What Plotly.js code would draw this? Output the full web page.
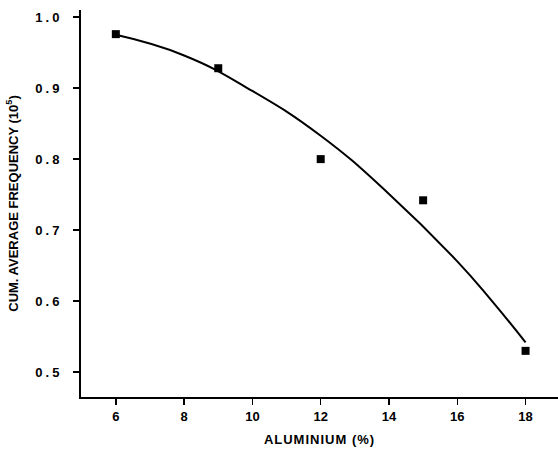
<!DOCTYPE html>
<html>
<head>
<meta charset="utf-8">
<script src="https://cdn.plot.ly/plotly-3.0.1.min.js"></script>
<style>html,body{margin:0;padding:0;background:#fff;}#chart{width:558px;height:452px;}</style>
</head>
<body>
<div id="chart"></div>
<script>
// Measured data points
const aluminium = [6, 9, 12, 15, 18];
const frequency = [0.976, 0.928, 0.800, 0.742, 0.530];
// Fitted curve
const curveX = [6, 8, 10, 12, 14, 16, 17, 18];
const curveY = [0.975, 0.946, 0.896, 0.833, 0.751, 0.656, 0.601, 0.542];
const xTicks = [6, 8, 10, 12, 14, 16, 18];
const yTicks = [0.5, 0.6, 0.7, 0.8, 0.9, 1.0];
const yTickText = ['0.5', '0.6', '0.7', '0.8', '0.9', '1.0'];

const fam = 'Liberation Sans, Arial, sans-serif';
const spaced = (s, px) => '<span style="letter-spacing:' + px + 'px">' + s + '</span>';

const traces = [
  {x: curveX, y: curveY, mode: 'lines', line: {color: '#000', width: 2, shape: 'spline', smoothing: 1.3}, hoverinfo: 'skip'},
  {x: aluminium, y: frequency, mode: 'markers', marker: {symbol: 'square', size: 8, color: '#000'}}
];

const layout = {
  width: 558, height: 452,
  margin: {l: 81, r: 0, t: 10, b: 55},
  paper_bgcolor: '#fff', plot_bgcolor: '#fff',
  showlegend: false,
  font: {family: fam, size: 12, color: '#000'},
  xaxis: {
    range: [4.98, 18.95], tickvals: xTicks, ticks: 'outside', ticklen: 6, tickwidth: 1.5, tickcolor: '#000',
    showline: true, linecolor: '#000', linewidth: 2, showgrid: false, zeroline: false,
    tickfont: {family: fam, size: 13, color: '#000', weight: 'bold'},
    title: {text: '<b>' + spaced('ALUMINIUM (%)', 1) + '</b>', font: {family: fam, size: 13, color: '#000'}, standoff: 12}
  },
  yaxis: {
    range: [0.465, 1.01], tickvals: yTicks, ticktext: yTickText.map(t => spaced(t, 3)),
    ticks: 'outside', ticklen: 6, tickwidth: 1.5, tickcolor: '#000', ticklabelstandoff: 8,
    showline: true, linecolor: '#000', linewidth: 2, showgrid: false, zeroline: false,
    tickfont: {family: fam, size: 13, color: '#000', weight: 'bold'},
    title: {text: '<b>CUM. AVERAGE FREQUENCY (10<sup>5</sup>)</b>', font: {family: fam, size: 13, color: '#000'}, standoff: 14}
  }
};

Plotly.newPlot('chart', traces, layout, {displayModeBar: false, staticPlot: true});
</script>
</body>
</html>
